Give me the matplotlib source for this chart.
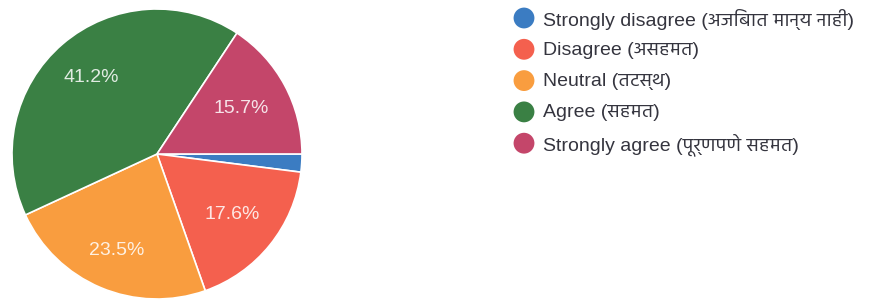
import glob
import matplotlib
matplotlib.use("Agg")
import matplotlib.pyplot as plt
from matplotlib import font_manager
import numpy as np

for p in glob.glob("/usr/share/fonts/truetype/google-fonts/Hind-Regular.ttf"):
    font_manager.fontManager.addfont(p)

FAM = ["Liberation Sans", "Hind", "DejaVu Sans"]

# ---- data ----
categories = [
    "Strongly disagree (अजिबात मान्य नाही)",
    "Disagree (असहमत)",
    "Neutral (तटस्थ)",
    "Agree (सहमत)",
    "Strongly agree (पूर्णपणे सहमत)",
]
percent = [2.0, 17.6, 23.5, 41.2, 15.7]
colors = ["#3b7cc2", "#f4604e", "#f99d3f", "#3a8044", "#c4466a"]

W, H = 871, 300
fig = plt.figure(figsize=(W / 100, H / 100), dpi=100)
fig.patch.set_facecolor("white")

# pie axes positioned in pixels: centre (157,154), radius 145
cx, cy, r = 157, 154, 145
ax = fig.add_axes([(cx - r) / W, (H - cy - r) / H, 2 * r / W, 2 * r / H])
wedges, texts = ax.pie(
    percent, colors=colors, startangle=0, counterclock=False,
    wedgeprops=dict(edgecolor="white", linewidth=1.2),
)
ax.set_xlim(-1, 1)
ax.set_ylim(-1, 1)
ax.set_aspect("equal")
ax.axis("off")

label_dist = [0, 0.67, 0.72, 0.70, 0.66]
for w, v, d in zip(wedges, percent, label_dist):
    if v < 5:
        continue
    ang = np.deg2rad((w.theta1 + w.theta2) / 2)
    ax.text(d * np.cos(ang), d * np.sin(ang), f"{v:.1f}%", ha="center", va="center",
            color="white", alpha=0.85, fontsize=14, family=FAM)

# legend drawn in pixel coordinates
lg = fig.add_axes([0, 0, 1, 1], facecolor="none")
lg.set_xlim(0, W)
lg.set_ylim(H, 0)
lg.axis("off")
row_y = 18
for i, (lab, col) in enumerate(zip(categories, colors)):
    y = row_y + 31.3 * i
    lg.scatter([524], [y], s=225, color=col, edgecolors="none")
    lg.text(543, y + 1, lab, ha="left", va="center", fontsize=14,
            color="#35353f", family=FAM)

fig.savefig("out.png", dpi=100)
